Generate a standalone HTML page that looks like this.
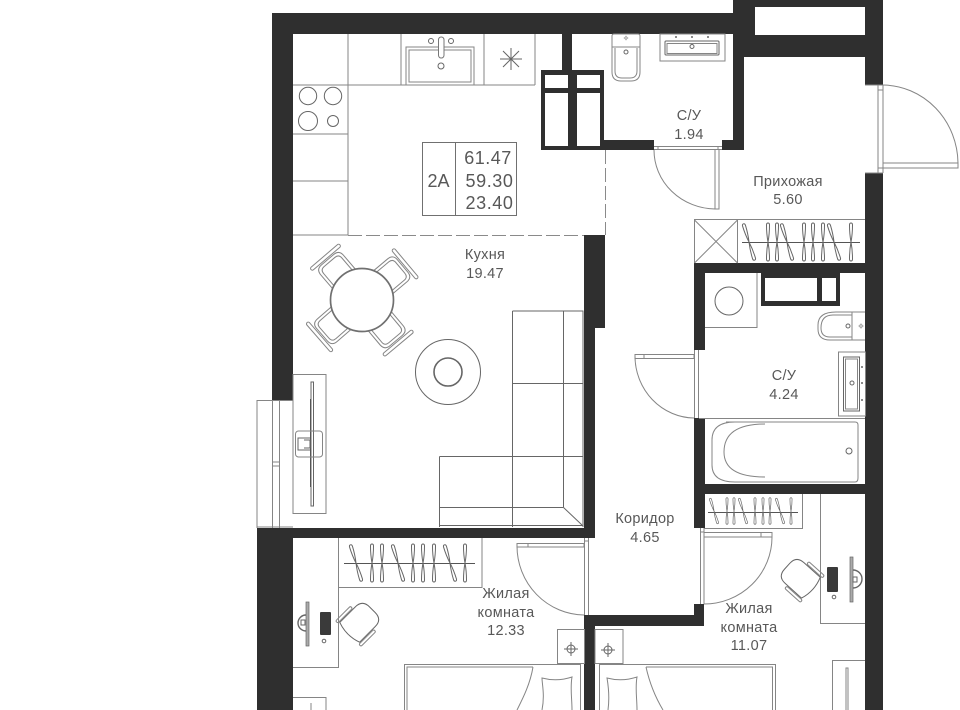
<!DOCTYPE html>
<html><head><meta charset="utf-8"><style>
html,body{margin:0;padding:0;background:#fff}
svg{display:block;filter:blur(.3px)}
text{font-family:"Liberation Sans",sans-serif;fill:#585858;text-anchor:middle;font-size:14.5px;letter-spacing:.3px}
.l{fill:none;stroke:#858585;stroke-width:1}
.d{fill:none;stroke:#666;stroke-width:1}
.w{fill:#2f2f2f}
</style></head><body>
<svg width="960" height="710" viewBox="0 0 960 710" xmlns="http://www.w3.org/2000/svg">
<defs>
<g id="h"><path class="d" d="M-1.500-17Q-1.500-19 0-19Q1.500-19 1.500-17Q1.500-8 0 0Q-1.500 8-1.500 17Q-1.500 19 0 19Q1.500 19 1.500 17Q1.500 8 0 0Q-1.500-8-1.500-17Z"/></g>
<g id="t"><use href="#h" transform="rotate(-17)"/></g>
<g id="chair"><path class="l" d="M-15-25L-15-46Q-15-53-8-53L8-53Q15-53 15-46L15-25"/><path class="l" d="M-12-27L-12-45Q-12-50-7-50L7-50Q12-50 12-45L12-27"/><rect class="l" x="-19" y="-58" width="38" height="3.500" rx="1.700"/></g>
<g id="off"><path class="d" d="M16-14H-6Q-16-14-16-4V4Q-16 14-6 14H16Q21 0 16-14Z"/><rect class="l" x="-3" y="-18" width="21" height="3" rx="1.500"/><rect class="l" x="-3" y="15" width="21" height="3" rx="1.500"/></g>
<g id="sock"><circle class="d" cx="0" cy="0" r="4"/><path class="d" d="M-7 0H7M0-7V7"/></g>
</defs>

<!-- outer walls -->
<rect class="w" x="272" y="13" width="461" height="21"/>
<rect class="w" x="272" y="13" width="21" height="388"/>
<rect class="w" x="733" y="0" width="150" height="7"/>
<rect class="w" x="733" y="0" width="22" height="57"/>
<rect class="w" x="733" y="35" width="150" height="22"/>
<rect class="w" x="733" y="57" width="11" height="93"/>
<rect class="w" x="865" y="0" width="18" height="85"/>
<rect class="w" x="865" y="173" width="18" height="537"/>
<rect class="w" x="722" y="140" width="22" height="10"/>
<rect class="w" x="604" y="140" width="50" height="10"/>
<rect class="w" x="562" y="34" width="10" height="36"/>
<path class="w" fill-rule="evenodd" d="M541 70H604V150H541ZM545 75V88H568V75ZM577 75V88H600V75ZM545 93V146H568V93ZM577 93V146H600V93Z"/>
<rect class="w" x="584" y="235" width="21" height="93"/>
<rect class="w" x="584" y="328" width="11" height="210"/>
<rect class="w" x="257" y="528" width="338" height="10"/>
<rect class="w" x="257" y="528" width="36" height="182"/>
<rect class="w" x="584" y="615" width="120" height="11"/>
<rect class="w" x="584" y="615" width="11" height="95"/>
<rect class="w" x="694" y="604" width="10" height="22"/>
<rect class="w" x="694" y="263" width="171" height="10"/>
<rect class="w" x="694" y="263" width="11" height="87"/>
<rect class="w" x="694" y="418" width="11" height="110"/>
<rect class="w" x="694" y="484" width="171" height="10"/>
<path class="w" fill-rule="evenodd" d="M761 273H840V306H761ZM765 278V301H817V278ZM822 278V301H836V278Z"/>

<!-- kitchen -->
<path class="l" d="M348 34V235M293 85H535M401 34V85M484 34V85M535 34V85M293 134H348M293 181H348M293 235H348"/>
<circle class="d" cx="308" cy="96" r="8.7"/><circle class="d" cx="333" cy="96" r="8.7"/>
<circle class="d" cx="308" cy="121" r="9.5"/><circle class="d" cx="333" cy="121" r="5.5"/>
<path class="l" d="M406 85V47H474V85M409 82V50H471V82H409Z"/>
<rect x="438.500" y="37" width="5.500" height="21" rx="2.700" fill="#fff" stroke="#777"/>
<circle class="d" cx="431" cy="41" r="2.500"/><circle class="d" cx="451" cy="41" r="2.500"/><circle class="d" cx="441" cy="66" r="3"/>
<path class="d" d="M511 48V70M500 59H522M503 51L519 67M519 51L503 67"/>
<!-- info box -->
<rect x="422.500" y="142.500" width="94" height="73" fill="#fff" stroke="#707070"/>
<path stroke="#707070" d="M455.500 142V216"/>
<text x="438.500" y="187" style="font-size:18px;letter-spacing:0">2A</text>
<text x="488" y="164" style="font-size:18px;letter-spacing:.5px">61.47</text>
<text x="489.500" y="187" style="font-size:18px;letter-spacing:.6px">59.30</text>
<text x="489.500" y="209" style="font-size:18px;letter-spacing:.6px">23.40</text>
<path stroke="#8a8a8a" stroke-dasharray="14 4" fill="none" d="M348 235.500H584M605.500 150V235"/>

<!-- table & chairs -->
<use href="#chair" transform="translate(362 300) rotate(-40.500)"/>
<use href="#chair" transform="translate(362 300) rotate(50)"/>
<use href="#chair" transform="translate(362 300) rotate(140)"/>
<use href="#chair" transform="translate(362 300) rotate(229)"/>
<circle cx="362" cy="300" r="31.500" fill="#fff" stroke="#707070" stroke-width="1.700"/>
<!-- rug -->
<circle class="d" cx="448" cy="372" r="32.500"/>
<circle cx="448" cy="372" r="14" fill="none" stroke="#666" stroke-width="1.600"/>
<!-- sofa -->
<path class="d" d="M512.500 311H583V527M512.500 311V527M512 383.500H583M439.500 456.500H583M563.500 311V507M439.500 527V456.500M439.500 507.500H563M439.500 525.500H583M563 507L582 525"/>
<!-- TV unit -->
<rect class="l" x="293" y="374.500" width="33" height="139"/>
<rect class="d" x="311" y="382" width="2.500" height="124" fill="#ccc"/>
<path stroke="#555" d="M310.500 399V487"/>
<rect class="l" x="295.500" y="431" width="27" height="26" rx="3"/>
<path class="d" d="M310 438H298V450H310M304 440H310V448H304"/>
<!-- window -->
<path class="l" d="M257 528V400.500H293M272.500 401V528M279.500 401V528M272 462H279M272 466H279M257 527H293"/>

<!-- C/U 1.94 -->
<path class="l" d="M612 47V36Q612 34 614 34H638Q640 34 640 36V47ZM612 47V72Q612 81 621 81H631Q640 81 640 72V47M615 48V71Q615 78 622 78H630Q637 78 637 71V48"/>
<use href="#sock" transform="translate(626 38) scale(.35)"/>
<circle class="d" cx="626" cy="52" r="2"/>
<rect class="l" x="660" y="34" width="65" height="27"/>
<rect class="d" x="665" y="41" width="54" height="14" rx="1"/>
<rect class="l" x="667" y="43.500" width="50" height="10"/>
<circle class="d" cx="692" cy="46.500" r="2"/>
<circle cx="676" cy="37" r="1" fill="#666"/><circle cx="692" cy="37" r="1" fill="#666"/><circle cx="708" cy="37" r="1" fill="#666"/>
<path class="l" d="M654 146.500H722M654 149.500H722M658 146V150M718 146V150"/>
<path class="l" d="M715 150V209H719V150M654 150A62 59 0 0 0 715 209"/>
<text x="689" y="120">С/У</text>
<text x="689" y="139">1.94</text>

<!-- entrance door -->
<path class="l" d="M878 85V173M883 85V173M865 85H883M878 90H883M865 173H883M878 168H883"/>
<path class="l" d="M883 163H958V168H883M883 85A76 79 0 0 1 958 163"/>
<text x="788" y="186">Прихожая</text>
<text x="788" y="204">5.60</text>

<!-- hall wardrobe -->
<path class="l" d="M694.500 263V219.500H865M737.500 219.500V263M694.500 220L737.500 263M737.500 220L694.500 263"/>
<path stroke="#555" d="M742 242.500H860"/>
<use href="#t" transform="translate(749 242)"/><use href="#h" transform="translate(768 242)"/><use href="#h" transform="translate(777 242)"/><use href="#t" transform="translate(787 242)"/><use href="#h" transform="translate(804 242)"/><use href="#h" transform="translate(813 242)"/><use href="#h" transform="translate(823 242)"/><use href="#t" transform="translate(834 242)"/><use href="#h" transform="translate(851 242)"/>

<!-- bath 4.24 -->
<path class="l" d="M705 327.500H757V273"/>
<circle class="d" cx="729" cy="301" r="14"/>
<path class="l" d="M865 312H836Q818 312 818 325V329Q818 340 830 340H865M852 312.500V340M821 328Q821 315 833 315H852M821 328Q821 337 830 337H852"/>
<circle class="d" cx="848" cy="326" r="2"/><use href="#sock" transform="translate(861 326) scale(.4)"/>
<rect class="l" x="838.500" y="352" width="27" height="64"/>
<rect class="d" x="843.500" y="357" width="16" height="54"/>
<rect class="l" x="845.500" y="359" width="12" height="50"/>
<circle class="d" cx="852" cy="383" r="2"/>
<circle cx="862" cy="367" r="1" fill="#666"/><circle cx="862" cy="383" r="1" fill="#666"/><circle cx="862" cy="400" r="1" fill="#666"/>
<path class="l" d="M694.500 350V418M698.500 350V418"/>
<path class="l" d="M635 354.500H694V358.500H635ZM644 354V359M635 356A60 62 0 0 0 694 418"/>
<path class="l" d="M699 418.500H865"/>
<path class="l" d="M726 422H855Q858 422 858 425V478Q858 482 855 482H735Q712 482 712 465V440Q712 422 735 422M765 424Q724 424 724 452Q724 477 765 477"/>
<circle class="d" cx="849" cy="451" r="3"/>
<text x="784" y="380">С/У</text>
<text x="784" y="399">4.24</text>

<text x="485" y="259">Кухня</text>
<text x="485" y="278">19.47</text>
<text x="645" y="523">Коридор</text>
<text x="645" y="542">4.65</text>

<!-- left room -->
<path class="l" d="M338.500 538V587M338 587.500H482V538M293 667.500H338.500V587M293 697.500H326V710"/>
<path stroke="#555" d="M344 563.500H475"/>
<use href="#t" transform="translate(356 563)"/><use href="#h" transform="translate(372 563)"/><use href="#h" transform="translate(382 563)"/><use href="#t" transform="translate(398 563)"/><use href="#h" transform="translate(413 563)"/><use href="#h" transform="translate(423 563)"/><use href="#h" transform="translate(434 563)"/><use href="#t" transform="translate(450 563)"/><use href="#h" transform="translate(465 563)"/>
<rect x="306" y="602" width="3" height="44" fill="#aaa" stroke="#666" stroke-width=".7"/>
<path d="M306 615A8 8 0 0 0 306 631" fill="none" stroke="#666" stroke-width="1.400"/>
<rect class="d" x="301" y="620" width="4" height="5"/>
<rect x="320" y="612" width="11" height="23" fill="#3a3a3a" rx="1"/>
<circle class="d" cx="324" cy="641" r="1.800"/>
<use href="#off" transform="translate(361 621) rotate(135)"/>
<path class="l" d="M311 703V710"/>
<path class="l" d="M584.500 538V615M588.500 538V615M584 541H588"/>
<path class="l" d="M517 543.500H584V547H517ZM528 543V547M517 546A68 69 0 0 0 584 615"/>
<rect class="l" x="557.500" y="629.500" width="27" height="34"/>
<use href="#sock" transform="translate(571 649)"/>
<path class="l" d="M404.500 710V664.500H580.500V710M407 710V667H533M533 667C530 685 522 700 517 710"/>
<path class="l" d="M542 710C545 695 542 684 542 678Q557 682 572 677C570 688 572 698 572 710"/>
<text x="506" y="598">Жилая</text>
<text x="506" y="617">комната</text>
<text x="506" y="635">12.33</text>

<!-- right room -->
<path class="l" d="M704 528.500H802.500V494"/>
<path stroke="#555" d="M708 512.500H798"/>
<use href="#t" transform="translate(714 511) scale(.7)"/><use href="#h" transform="translate(727 511) scale(.7)"/><use href="#h" transform="translate(734 511) scale(.7)"/><use href="#t" transform="translate(743 511) scale(.7)"/><use href="#h" transform="translate(755 511) scale(.7)"/><use href="#h" transform="translate(763 511) scale(.7)"/><use href="#h" transform="translate(770 511) scale(.7)"/><use href="#t" transform="translate(780 511) scale(.7)"/><use href="#h" transform="translate(791 511) scale(.7)"/>
<path class="l" d="M820.500 494V623.500H865M832.500 710V660.500H865"/>
<rect x="850" y="557" width="3" height="45" fill="#aaa" stroke="#666" stroke-width=".7"/>
<path d="M853 570A8.500 8.500 0 0 1 853 588" fill="none" stroke="#666" stroke-width="1.400"/>
<rect class="d" x="853" y="577" width="4" height="5"/>
<rect x="827" y="567" width="11" height="25" fill="#3a3a3a" rx="1"/>
<circle class="d" cx="834" cy="597" r="1.800"/>
<use href="#off" transform="translate(799 577) rotate(42)"/>
<path class="l" d="M846 710V668H848V710"/>
<path class="l" d="M700.500 528V604M704 528V604M700 532H704"/>
<path class="l" d="M704 532.500H772V537H704ZM761 532V537M772 537A68 67 0 0 1 704 604"/>
<rect class="l" x="595" y="629.500" width="28" height="34"/>
<use href="#sock" transform="translate(608 650)"/>
<path class="l" d="M599.500 710V664.500H775.500V710M772.500 710V667H646M646 667C650 685 657 700 663 710"/>
<path class="l" d="M608 710C610 695 608 684 607 678Q622 682 637 677C635 688 637 698 637 710"/>
<text x="749" y="613">Жилая</text>
<text x="749" y="632">комната</text>
<text x="749" y="650">11.07</text>
</svg>
</body></html>
